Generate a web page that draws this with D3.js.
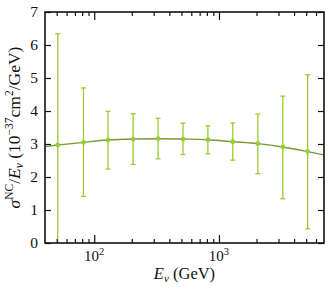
<!DOCTYPE html>
<html>
<head>
<meta charset="utf-8">
<script src="https://cdn.jsdelivr.net/npm/d3@7"></script>
<style>
  body { margin: 0; background: #fff; }
  text { font-family: "Liberation Serif", "DejaVu Serif", serif; fill: #111; }
</style>
</head>
<body>
<div id="chart"></div>
<script>
// measured points (GeV) with error bars
const energies = [51, 82, 129, 205, 325, 515, 815, 1290, 2050, 3250, 5140];
const xsec = [2.97, 3.05, 3.12, 3.15, 3.16, 3.15, 3.13, 3.07, 3.01, 2.91, 2.77];
const errLow = [-0.40, 1.41, 2.24, 2.38, 2.55, 2.68, 2.70, 2.51, 2.10, 1.34, 0.43];
const errHigh = [6.34, 4.70, 3.99, 3.92, 3.78, 3.63, 3.55, 3.64, 3.91, 4.45, 5.10];

// fitted curve
const curveE = [40, 51, 82, 129, 205, 325, 515, 815, 1290, 2050, 3250, 5140, 6950];
const curveV = [2.92, 2.97, 3.05, 3.12, 3.15, 3.16, 3.15, 3.13, 3.07, 3.01, 2.91, 2.77, 2.67];

const yTicks = [0, 1, 2, 3, 4, 5, 6, 7];

const w = 330, h = 294;
const m = {left: 45, right: 6, top: 12, bottom: 51};
const iw = w - m.left - m.right, ih = h - m.top - m.bottom;

const lineColor = '#759a36', pointColor = '#99cc33';

const svg = d3.select('#chart').append('svg')
    .attr('width', w).attr('height', h);

const g = svg.append('g').attr('transform', `translate(${m.left},${m.top})`);

const x = d3.scaleLog().domain([40.3, 6950]).range([0, iw]);
const y = d3.scaleLinear().domain([0, 7]).range([ih, 0]);

g.append('clipPath').attr('id', 'clip')
    .append('rect').attr('width', iw).attr('height', ih);

const plot = g.append('g').attr('clip-path', 'url(#clip)');

// error bars
const pts = energies.map((e, i) => ({e: e, v: xsec[i], lo: errLow[i], hi: errHigh[i]}));

plot.selectAll('.err').data(pts).enter()
    .append('line')
    .attr('x1', d => x(d.e)).attr('x2', d => x(d.e))
    .attr('y1', d => y(d.lo)).attr('y2', d => y(d.hi))
    .attr('stroke', pointColor).attr('stroke-width', 1.3);

['lo', 'hi'].forEach(k => {
    plot.selectAll('.cap-' + k).data(pts).enter()
        .append('line')
        .attr('x1', d => x(d.e) - 2.5).attr('x2', d => x(d.e) + 2.5)
        .attr('y1', d => y(d[k])).attr('y2', d => y(d[k]))
        .attr('stroke', pointColor).attr('stroke-width', 1.3);
});

// curve
const line = d3.line()
    .x((d, i) => x(curveE[i]))
    .y(d => y(d))
    .curve(d3.curveMonotoneX);

plot.append('path')
    .datum(curveV)
    .attr('d', line)
    .attr('fill', 'none')
    .attr('stroke', lineColor)
    .attr('stroke-width', 1.4);

plot.selectAll('.pt').data(pts).enter()
    .append('circle')
    .attr('cx', d => x(d.e)).attr('cy', d => y(d.v))
    .attr('r', 2.4)
    .attr('fill', pointColor);

// axes, ticks inward
const majorX = [100, 1000];
const minorX = [];
[10, 100, 1000].forEach(dec => {
    for (let k = 2; k <= 9; k++) {
        const v = dec * k;
        if (v > 40.3 && v < 6950) minorX.push(v);
    }
});

g.append('g').attr('transform', `translate(0,${ih})`)
    .call(d3.axisBottom(x).tickValues(minorX).tickSize(-4).tickFormat(''))
    .call(a => a.select('.domain').remove());
g.append('g').attr('transform', `translate(0,${ih})`)
    .call(d3.axisBottom(x).tickValues(majorX).tickSize(-8).tickFormat(''))
    .call(a => a.select('.domain').remove());
g.append('g')
    .call(d3.axisTop(x).tickValues(minorX).tickSize(-4).tickFormat(''))
    .call(a => a.select('.domain').remove());
g.append('g')
    .call(d3.axisTop(x).tickValues(majorX).tickSize(-8).tickFormat(''))
    .call(a => a.select('.domain').remove());

g.append('g')
    .call(d3.axisLeft(y).tickValues(yTicks).tickSize(-6).tickFormat(''))
    .call(a => a.select('.domain').remove());
g.append('g').attr('transform', `translate(${iw},0)`)
    .call(d3.axisRight(y).tickValues(yTicks).tickSize(-6).tickFormat(''))
    .call(a => a.select('.domain').remove());

g.selectAll('.tick line').attr('stroke', '#111').attr('stroke-width', 1.2);

// y tick labels
g.selectAll('.ylab').data(yTicks).enter()
    .append('text')
    .attr('x', -7).attr('y', d => y(d))
    .attr('dy', '0.35em')
    .attr('text-anchor', 'end')
    .style('font-size', '15.5px')
    .text(d => d);

// x tick labels
const xl = g.selectAll('.xlab').data(majorX).enter()
    .append('text')
    .attr('x', d => x(d)).attr('y', ih + 18)
    .attr('text-anchor', 'middle')
    .style('font-size', '15px');
xl.append('tspan').text('10');
xl.append('tspan').attr('dy', -6).style('font-size', '10.5px').text(d => Math.round(Math.log10(d)));

// frame
g.append('rect').attr('width', iw).attr('height', ih)
    .attr('fill', 'none').attr('stroke', '#111').attr('stroke-width', 1.6);

// axis titles
const xt = svg.append('text')
    .attr('x', m.left + iw / 2).attr('y', h - 15)
    .attr('text-anchor', 'middle')
    .style('font-size', '16.5px');
xt.append('tspan').style('font-style', 'italic').text('E');
xt.append('tspan').attr('dy', 3).style('font-size', '11px').style('font-style', 'italic').text('ν');
xt.append('tspan').attr('dy', -3).text(' (GeV)');

const yt = svg.append('text')
    .attr('transform', `translate(20,${m.top + ih / 2}) rotate(-90)`)
    .attr('text-anchor', 'middle')
    .style('font-size', '17.5px');
yt.append('tspan').style('font-style', 'italic').text('σ');
yt.append('tspan').attr('dy', -7).style('font-size', '11.5px').text('NC');
yt.append('tspan').attr('dy', 7).text('/');
yt.append('tspan').style('font-style', 'italic').text('E');
yt.append('tspan').attr('dy', 3).style('font-size', '11.5px').style('font-style', 'italic').text('ν');
yt.append('tspan').attr('dy', -3).text(' (10');
yt.append('tspan').attr('dy', -7).style('font-size', '11.5px').text('−37');
yt.append('tspan').attr('dy', 7).text('cm');
yt.append('tspan').attr('dy', -7).style('font-size', '11.5px').text('2');
yt.append('tspan').attr('dy', 7).text('/GeV)');
</script>
</body>
</html>
